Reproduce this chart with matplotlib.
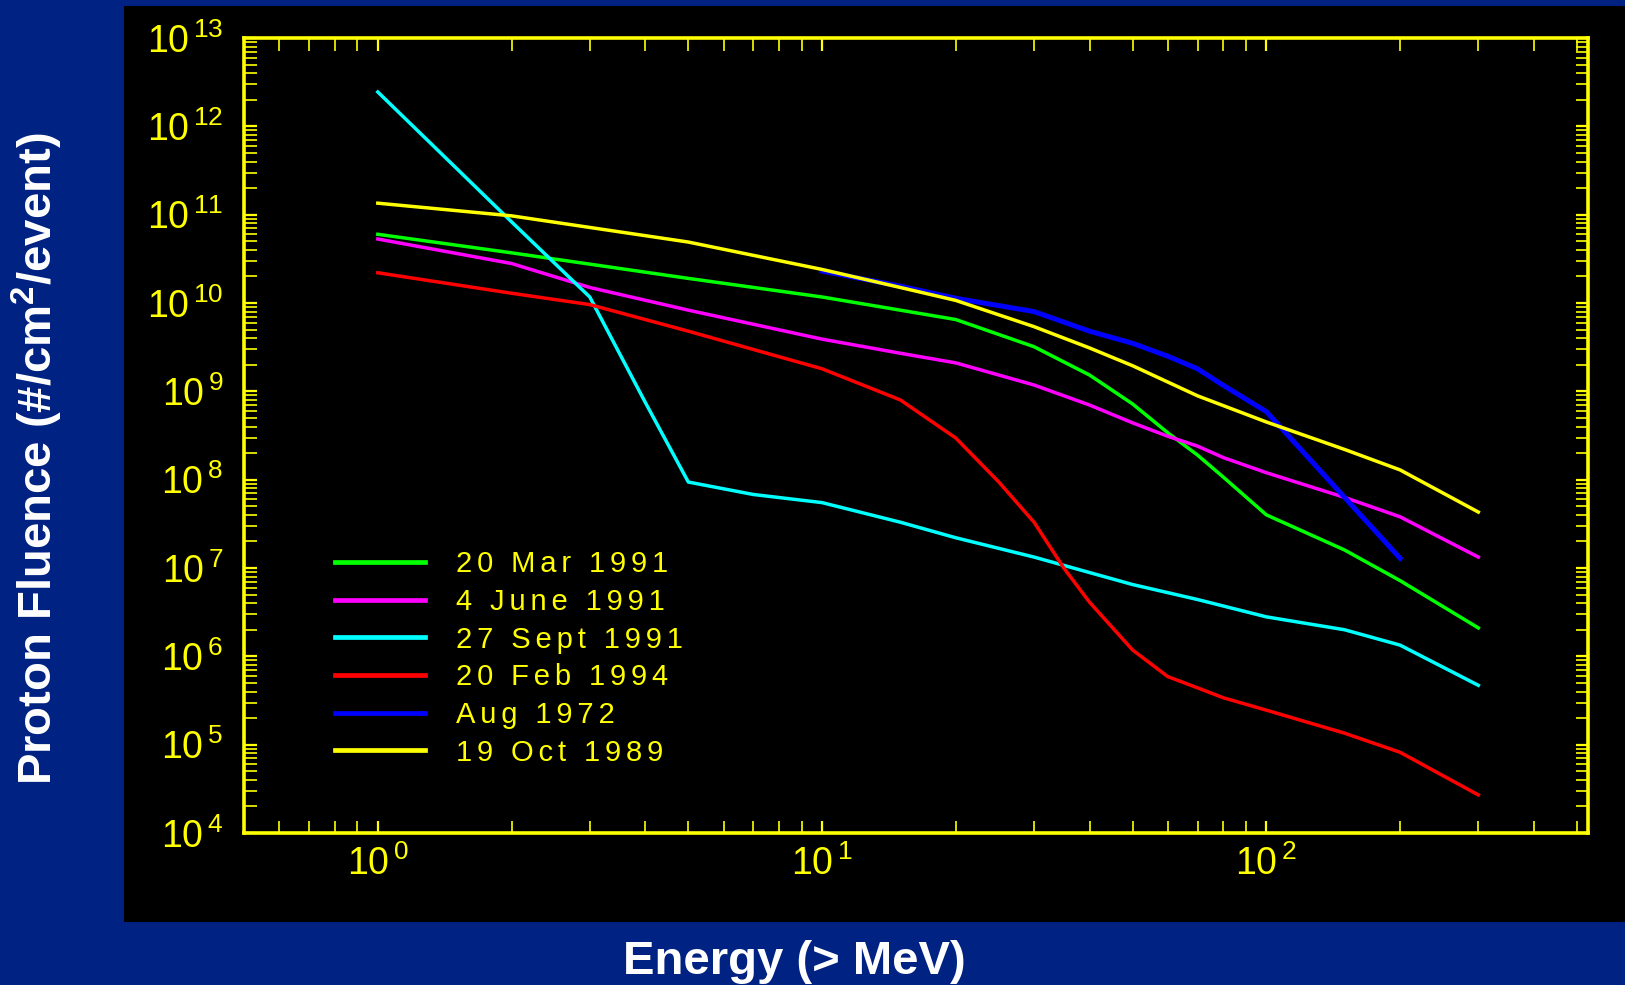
import numpy as np
import matplotlib
matplotlib.use('Agg')
import matplotlib.pyplot as plt
from matplotlib.patches import Rectangle
from matplotlib.ticker import LogLocator, FuncFormatter, NullFormatter

plt.rcParams['font.family'] = ['Liberation Sans', 'DejaVu Sans']
plt.rcParams['mathtext.fontset'] = 'custom'
plt.rcParams['mathtext.rm'] = 'Liberation Sans'

# event fluence spectra (energy in MeV, fluence #/cm2/event)
mar91_e = [1, 2, 5, 10, 15, 20, 30, 40, 50, 60, 70, 80, 100, 150, 200, 300]
mar91_f = [6.0e10, 3.7e10, 1.9e10, 1.17e10, 8.3e9, 6.5e9, 3.2e9, 1.53e9, 7.2e8,
           3.4e8, 1.9e8, 1.07e8, 4.0e7, 1.6e7, 7.2e6, 2.1e6]

jun91_e = [1, 2, 3, 5, 10, 15, 20, 30, 40, 50, 60, 70, 80, 100, 150, 200, 300]
jun91_f = [5.3e10, 2.8e10, 1.5e10, 8.3e9, 3.9e9, 2.7e9, 2.1e9, 1.18e9, 7.0e8,
           4.4e8, 3.1e8, 2.4e8, 1.78e8, 1.2e8, 6.3e7, 3.8e7, 1.33e7]

sep91_e = [1, 2, 3, 4, 5, 7, 10, 15, 20, 30, 50, 70, 100, 150, 200, 300]
sep91_f = [2.45e12, 8.3e10, 1.17e10, 7.5e8, 9.4e7, 6.8e7, 5.5e7, 3.3e7, 2.2e7,
           1.33e7, 6.5e6, 4.4e6, 2.8e6, 2.0e6, 1.34e6, 4.7e5]

feb94_e = [1, 2, 3, 5, 10, 15, 20, 25, 30, 35, 40, 50, 60, 70, 80, 100, 150, 200, 300]
feb94_f = [2.2e10, 1.29e10, 9.6e9, 4.8e9, 1.8e9, 8.0e8, 2.96e8, 9.4e7, 3.3e7,
           1.0e7, 4.1e6, 1.18e6, 5.9e5, 4.4e5, 3.4e5, 2.46e5, 1.35e5, 8.2e4, 2.7e4]

aug72_e = [10, 15, 20, 30, 40, 50, 60, 70, 80, 100, 150, 200]
aug72_f = [2.3e10, 1.55e10, 1.13e10, 8.0e9, 4.8e9, 3.5e9, 2.5e9, 1.8e9, 1.17e9,
           5.9e8, 6.3e7, 1.29e7]

oct89_e = [1, 2, 5, 10, 15, 20, 30, 40, 50, 70, 100, 150, 200, 300]
oct89_f = [1.35e11, 9.7e10, 4.9e10, 2.4e10, 1.5e10, 1.07e10, 5.4e9, 3.1e9,
           1.95e9, 8.9e8, 4.5e8, 2.2e8, 1.29e8, 4.3e7]

labels = ['20 Mar 1991', '4 June 1991', '27 Sept 1991', '20 Feb 1994',
          'Aug 1972', '19 Oct 1989']
colors = ['#00ff00', '#ff00ff', '#00ffff', '#ff0000', '#0000ff', '#ffff00']

series = [(mar91_e, mar91_f), (jun91_e, jun91_f), (sep91_e, sep91_f),
          (feb94_e, feb94_f), (aug72_e, aug72_f), (oct89_e, oct89_f)]

yellow = '#ffff00'

fig = plt.figure(figsize=(16.25, 9.85), dpi=100, facecolor='#002282')
fig.add_artist(Rectangle((0.0763, 0.064), 0.93, 0.9299, transform=fig.transFigure,
                         facecolor='black', edgecolor='none', zorder=0))

ax = fig.add_axes([0.1502, 0.1543, 0.8271, 0.8071])
ax.set_facecolor('black')

for (e, f), lab, c in zip(series, labels, colors):
    lw = 3.6 if c == '#0000ff' else 2.5
    # spread the letters a little like the original slide
    ax.plot(e, f, color=c, lw=lw, label='\u2006'.join(lab))

ax.set_xscale('log')
ax.set_yscale('log')
ax.set_xlim(0.5, 530)
ax.set_ylim(1e4, 1e13)

fmt = FuncFormatter(lambda v, p: r'$\mathrm{10^{\,%d}}$' % round(np.log10(v)))
ax.xaxis.set_major_locator(LogLocator(base=10, numticks=20))
ax.yaxis.set_major_locator(LogLocator(base=10, numticks=20))
ax.xaxis.set_minor_locator(LogLocator(base=10, subs=np.arange(2, 10), numticks=100))
ax.yaxis.set_minor_locator(LogLocator(base=10, subs=np.arange(2, 10), numticks=100))
ax.xaxis.set_major_formatter(fmt)
ax.yaxis.set_major_formatter(fmt)
ax.xaxis.set_minor_formatter(NullFormatter())
ax.yaxis.set_minor_formatter(NullFormatter())

ax.tick_params(which='both', direction='in', top=True, right=True, color=yellow,
               labelcolor=yellow, labelsize=27)
ax.tick_params(which='major', length=9, width=1.6)
ax.tick_params(which='minor', length=9, width=1.2)
ax.tick_params(axis='y', which='major', pad=15)
ax.tick_params(axis='x', which='major', pad=9)
for s in ax.spines.values():
    s.set_color(yellow)
    s.set_linewidth(2.6)

leg = ax.legend(loc='center left', bbox_to_anchor=(0.0677, 0.2195), frameon=False,
                fontsize=21, labelcolor=yellow, handlelength=3.1, handletextpad=1.05,
                labelspacing=0.33, borderpad=0, borderaxespad=0)
for h in leg.get_lines():
    h.set_linewidth(3.4)

fig.text(0.023, 0.534, 'Proton Fluence (#/cm$\\mathregular{^2}$/event)', rotation=90,
         color='white', fontsize=34, fontweight='bold', ha='center', va='center')
fig.text(0.489, 0.0112, 'Energy (> MeV)', color='white', fontsize=34,
         fontweight='bold', ha='center', va='baseline')

fig.savefig('out.png', dpi=100, facecolor=fig.get_facecolor())
